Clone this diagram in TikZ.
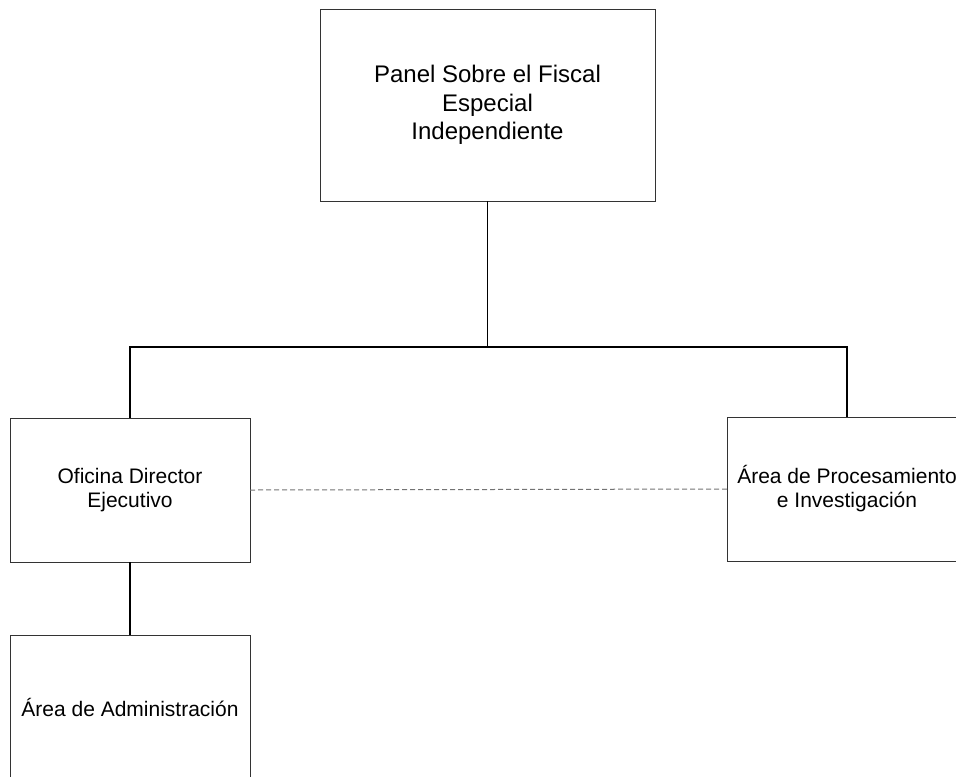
\documentclass[tikz,border=0pt]{standalone}
\usepackage{fontspec}
\setmainfont{Liberation Sans}
\begin{document}
\begin{tikzpicture}[x=0.75pt,y=0.75pt,yscale=-1,xscale=1]
	\tikzset{unidad/.style={draw=black!80, line width=0.75pt, inner sep=0pt, outer sep=0pt, align=center, minimum width=180pt, minimum height=108pt, font=\fontsize{15.75}{18}\selectfont},
		enlace/.style={draw=black, line width=1.1pt},
		staff/.style={draw=black!55, line width=0.75pt, dash pattern=on 3.75pt off 2.25pt}}
	\useasboundingbox (0,0) rectangle (956,776);
	\clip (0,0) rectangle (956,776);
	\node [unidad, minimum width=251.25pt, minimum height=144pt, font=\fontsize{18}{21.4}\selectfont] (panel) at (487.5,105) {Panel Sobre el Fiscal\\Especial\\Independiente};
	\node [unidad] (oficina) at (130,490) {Oficina Director\\Ejecutivo};
	\node [unidad] (proc) at (847,489) {Área de Procesamiento\\e Investigación};
	\node [unidad] (admin) at (130,707) {Área de Administración};
	\coordinate (bus) at (487.5,347);
	\draw [enlace] (panel.south) -- (bus);
	\draw [enlace] (oficina.north) |- (bus) -| (proc.north);
	\draw [enlace] (oficina.south) -- (admin.north);
	\draw [staff] (oficina.east) -- (proc.west);
\end{tikzpicture}
\end{document}
